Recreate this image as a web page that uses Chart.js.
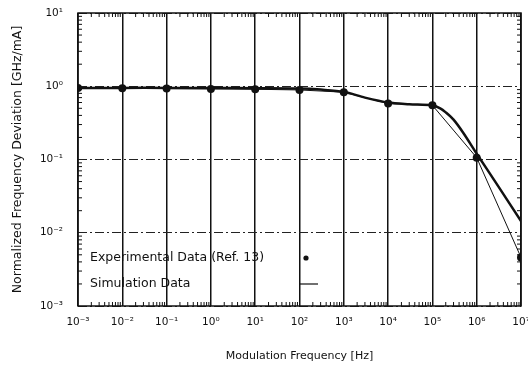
<!DOCTYPE html>
<html>
<head>
<meta charset="utf-8">
<script src="https://cdn.jsdelivr.net/npm/chart.js@4/dist/chart.umd.min.js"></script>
<style>
  html, body { margin: 0; padding: 0; background: #fff; overflow: hidden; }
  #wrap { position: relative; width: 540px; height: 367px; }
</style>
</head>
<body>
<div id="wrap"><canvas id="c"></canvas></div>
<script>
// experimental points (Ref. 13)
var expFreq = [1e-3, 1e-2, 1e-1, 1, 10, 100, 1e3, 1e4, 1e5, 1e6, 1e7]
var expValues = [0.95, 0.94, 0.93, 0.92, 0.91, 0.89, 0.83, 0.58, 0.55, 0.106, 0.0046]

// simulation curve
var simFreq = [1e-3, 1e-2, 1e-1, 1, 10, 100, 300, 1e3, 3e3, 1e4, 3e4, 1e5, 1.5e5, 2e5, 3e5, 5e5, 1e6, 3e6, 1e7]
var simValues = [0.95, 0.95, 0.95, 0.945, 0.94, 0.93, 0.9, 0.84, 0.7, 0.6, 0.57, 0.55, 0.5, 0.44, 0.35, 0.23, 0.12, 0.044, 0.0144]

var xDecades = [1e-3, 1e-2, 1e-1, 1, 10, 100, 1e3, 1e4, 1e5, 1e6, 1e7]
var yDecades = [1e-3, 1e-2, 1e-1, 1, 10]
var supers = { '-': '\u207B', '0': '\u2070', '1': '\u00B9', '2': '\u00B2', '3': '\u00B3', '4': '\u2074', '5': '\u2075', '6': '\u2076', '7': '\u2077' }

var FONT = '"DejaVu Sans", sans-serif'

function powLabel(v) {
  var e = String(Math.round(Math.log10(v)))
  return '10' + e.split('').map(function (ch) { return supers[ch] }).join('')
}

function zip(xs, ys) {
  return xs.map(function (x, i) { return { x: x, y: ys[i] } })
}

var frame = {
  id: 'frame',
  afterDraw: function (chart) {
    var ctx = chart.ctx, a = chart.chartArea
    var xs = chart.scales.x, ys = chart.scales.y
    ctx.save()
    ctx.strokeStyle = '#111'
    ctx.lineWidth = 1.5
    ctx.strokeRect(a.left, a.top, a.right - a.left, a.bottom - a.top)
    // minor ticks, inward on every side
    ctx.lineWidth = 1
    ctx.beginPath()
    for (var d = -3; d < 7; d++) {
      for (var k = 2; k < 10; k++) {
        var px = xs.getPixelForValue(k * Math.pow(10, d))
        ctx.moveTo(px, a.bottom); ctx.lineTo(px, a.bottom - 4)
        ctx.moveTo(px, a.top); ctx.lineTo(px, a.top + 4)
      }
    }
    for (var e = -3; e < 1; e++) {
      for (var m = 2; m < 10; m++) {
        var py = ys.getPixelForValue(m * Math.pow(10, e))
        ctx.moveTo(a.left, py); ctx.lineTo(a.left + 4, py)
        ctx.moveTo(a.right, py); ctx.lineTo(a.right - 4, py)
      }
    }
    ctx.stroke()

    // legend inside the plot
    ctx.fillStyle = '#111'
    ctx.font = '12.5px ' + FONT
    ctx.textBaseline = 'middle'
    ctx.fillText('Experimental Data (Ref. 13)', 90, 258)
    ctx.fillText('Simulation Data', 90, 284)
    ctx.beginPath()
    ctx.arc(306, 258, 2.6, 0, Math.PI * 2)
    ctx.fill()
    ctx.lineWidth = 1.2
    ctx.beginPath()
    ctx.moveTo(300, 284); ctx.lineTo(318, 284)
    ctx.stroke()
    ctx.restore()
  }
}

new Chart(document.getElementById('c'), {
  type: 'line',
  data: {
    datasets: [
      {
        label: 'Experimental Data (Ref. 13)',
        data: zip(expFreq, expValues),
        borderColor: '#111',
        backgroundColor: '#111',
        borderWidth: 1,
        pointRadius: 4,
        pointBorderWidth: 0,
        tension: 0
      },
      {
        label: 'Simulation Data',
        data: zip(simFreq, simValues),
        borderColor: '#111',
        borderWidth: 2.5,
        pointRadius: 0,
        tension: 0.3
      }
    ]
  },
  options: {
    responsive: true,
    maintainAspectRatio: false,
    animation: false,
    layout: { padding: { top: 13, right: 19, left: 6, bottom: 0 } },
    plugins: { legend: { display: false }, tooltip: { enabled: false } },
    scales: {
      x: {
        type: 'logarithmic',
        min: 1e-3,
        max: 1e7,
        afterBuildTicks: function (s) {
          s.ticks = xDecades.map(function (v) { return { value: v } })
        },
        afterFit: function (s) { s.height = 61; s.paddingTop = 0 },
        grid: { color: '#111', lineWidth: 1.5, drawTicks: false },
        border: { display: false },
        ticks: {
          color: '#111',
          padding: 10,
          maxRotation: 0,
          autoSkip: false,
          font: { family: FONT, size: 10.5 },
          callback: function (v) { return powLabel(v) }
        },
        title: {
          display: true,
          text: 'Modulation Frequency [Hz]',
          color: '#111',
          font: { family: FONT, size: 11 },
          padding: { top: 16 }
        }
      },
      y: {
        type: 'logarithmic',
        min: 1e-3,
        max: 10,
        afterBuildTicks: function (s) {
          s.ticks = yDecades.map(function (v) { return { value: v } })
        },
        afterFit: function (s) { s.width = 72; s.paddingTop = 0; s.paddingBottom = 0 },
        grid: { color: '#222', lineWidth: 1, drawTicks: false },
        border: { display: false, dash: [9, 3, 2, 3] },
        ticks: {
          color: '#111',
          padding: 15,
          font: { family: FONT, size: 10.5 },
          callback: function (v) { return powLabel(v) }
        },
        title: {
          display: true,
          text: 'Normalized Frequency Deviation [GHz/mA]',
          color: '#111',
          font: { family: FONT, size: 12.5 },
          padding: { bottom: 0 }
        }
      }
    }
  },
  plugins: [frame]
})
</script>
</body>
</html>
